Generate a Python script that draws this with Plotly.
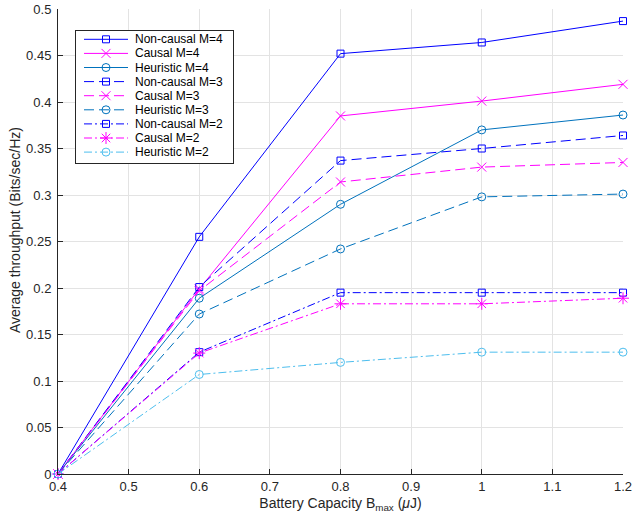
import plotly.graph_objects as go

x_vals = [0.4, 0.6, 0.8, 1.0, 1.2]

noncausal_m4 = [0, 0.255, 0.452, 0.464, 0.487]
causal_m4 = [0, 0.199, 0.385, 0.401, 0.419]
heuristic_m4 = [0, 0.189, 0.290, 0.370, 0.386]
noncausal_m3 = [0, 0.201, 0.337, 0.350, 0.364]
causal_m3 = [0, 0.197, 0.314, 0.330, 0.335]
heuristic_m3 = [0, 0.172, 0.242, 0.298, 0.301]
noncausal_m2 = [0, 0.131, 0.195, 0.195, 0.195]
causal_m2 = [0, 0.130, 0.183, 0.183, 0.189]
heuristic_m2 = [0, 0.107, 0.120, 0.131, 0.131]

x_ticks = [0.4, 0.5, 0.6, 0.7, 0.8, 0.9, 1.0, 1.1, 1.2]
x_tick_labels = ["0.4", "0.5", "0.6", "0.7", "0.8", "0.9", "1", "1.1", "1.2"]
y_ticks = [0, 0.05, 0.1, 0.15, 0.2, 0.25, 0.3, 0.35, 0.4, 0.45, 0.5]
y_tick_labels = ["0", "0.05", "0.1", "0.15", "0.2", "0.25", "0.3", "0.35", "0.4", "0.45", "0.5"]

DASH = "10px,5px"
DASHDOT = "8px,3px,2px,3px"
series = [
    ("Non-causal M=4", noncausal_m4, "#0000FF", "solid", "square-open", 7),
    ("Causal M=4", causal_m4, "#FF00FF", "solid", "x-thin-open", 9),
    ("Heuristic M=4", heuristic_m4, "#0072BD", "solid", "circle-open", 8),
    ("Non-causal M=3", noncausal_m3, "#0000FF", DASH, "square-open", 7),
    ("Causal M=3", causal_m3, "#FF00FF", DASH, "x-thin-open", 9),
    ("Heuristic M=3", heuristic_m3, "#0072BD", DASH, "circle-open", 8),
    ("Non-causal M=2", noncausal_m2, "#0000FF", DASHDOT, "square-open", 7),
    ("Causal M=2", causal_m2, "#FF00FF", DASHDOT, "asterisk-open", 10),
    ("Heuristic M=2", heuristic_m2, "#4DBEEE", DASHDOT, "circle-open", 8),
]

W, H = 632, 521
ML, MR, MT, MB = 58, 9, 9, 47
PW, PH = W - ML - MR, H - MT - MB

fig = go.Figure()
for name, y, color, dash, sym, size in series:
    fig.add_trace(go.Scatter(
        x=x_vals, y=y, name=name, mode="lines+markers", showlegend=False,
        line=dict(color=color, width=1, dash=dash),
        marker=dict(symbol=sym, size=size, color=color, line=dict(color=color, width=1)),
        xaxis="x", yaxis="y", cliponaxis=False,
    ))

# custom legend drawn in an inset axis (pixel units inside the legend box)
LX0, LX1, LY0, LY1 = 76, 233, 31, 163
LW, LH = LX1 - LX0, LY1 - LY0
row0, rowgap = 8.3, 14.1
annotations = []
for i, (name, y, color, dash, sym, size) in enumerate(series):
    ry = row0 + rowgap * i
    fig.add_trace(go.Scatter(
        x=[8, 30, 52], y=[ry, ry, ry], mode="lines+markers", showlegend=False,
        hoverinfo="skip",
        line=dict(color=color, width=1, dash=dash),
        marker=dict(symbol=sym, size=size, color=color, opacity=[0, 1, 0],
                    line=dict(color=color, width=1)),
        xaxis="x2", yaxis="y2",
    ))
    annotations.append(dict(
        x=57, y=ry, xref="x2", yref="y2", text=name, showarrow=False,
        xanchor="left", yanchor="middle", font=dict(size=12, color="#000000"),
    ))

font = "Liberation Sans, Arial, Helvetica, sans-serif"
annotations.append(dict(
    x=(15 - ML) / PW, y=(MT + PH - 230) / PH, xref="paper", yref="paper",
    text="Average throughput (Bits/sec/Hz)", textangle=-90, showarrow=False,
    xanchor="center", yanchor="middle", font=dict(size=14, color="#262626"),
))

axis_common = dict(
    showgrid=True, gridcolor="#E3E3E3", gridwidth=1,
    zeroline=False, showline=True, linecolor="#262626", linewidth=1,
    mirror=False, ticks="inside", ticklen=5, tickcolor="#262626",
    tickfont=dict(size=13, color="#262626"), automargin=False,
    ticklabeloverflow="allow",
)

fig.update_layout(
    width=W, height=H,
    margin=dict(l=ML, r=MR, t=MT, b=MB),
    paper_bgcolor="white", plot_bgcolor="white",
    font=dict(family=font, size=12, color="#262626"),
    showlegend=False,
    hovermode=False,
    xaxis=dict(
        range=[0.4, 1.2], tickvals=x_ticks, ticktext=x_tick_labels,
        title=dict(text="Battery Capacity B<sub>max</sub> (<i>μ</i>J)", standoff=5,
                   font=dict(size=14, color="#262626")),
        domain=[0, 1], **axis_common,
    ),
    yaxis=dict(
        range=[0, 0.5], tickvals=y_ticks, ticktext=y_tick_labels,
        ticklabelstandoff=3, domain=[0, 1], **axis_common,
    ),
    xaxis2=dict(
        domain=[(LX0 - ML) / PW, (LX1 - ML) / PW], range=[0, LW], anchor="y2",
        showgrid=False, zeroline=False, showticklabels=False, ticks="",
        showline=True, mirror=True, linecolor="#262626", linewidth=1, fixedrange=True,
    ),
    yaxis2=dict(
        domain=[(MT + PH - LY1) / PH, (MT + PH - LY0) / PH], range=[LH, 0], anchor="x2",
        showgrid=False, zeroline=False, showticklabels=False, ticks="",
        showline=True, mirror=True, linecolor="#262626", linewidth=1, fixedrange=True,
    ),
    annotations=annotations,
)

fig.write_html(
    "out.html",
    config={"displayModeBar": False},
    post_script="document.body.style.margin='0';document.body.style.overflow='hidden';",
)
